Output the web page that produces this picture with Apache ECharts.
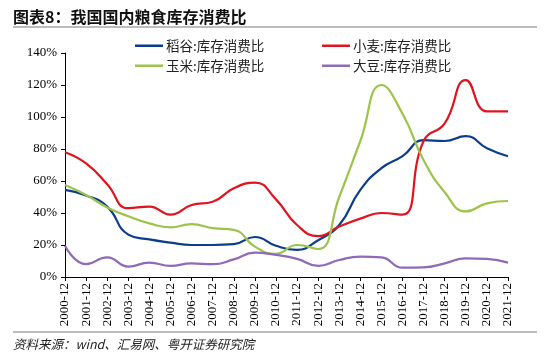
<!DOCTYPE html>
<html>
<head>
<meta charset="utf-8">
<script src="https://cdn.jsdelivr.net/npm/echarts@6/dist/echarts.min.js"></script>
<style>
html,body{margin:0;padding:0;background:#fff;}
#chart{width:550px;height:362px;}
</style>
</head>
<body>
<div id="chart"></div>
<script>
var categories = ['2000-12','2001-12','2002-12','2003-12','2004-12','2005-12','2006-12','2007-12','2008-12','2009-12','2010-12','2011-12','2012-12','2013-12','2014-12','2015-12','2016-12','2017-12','2018-12','2019-12','2020-12','2021-12'];
var rice = [54.5, 51, 44, 26.5, 23.5, 21.5, 20, 20, 20.5, 25, 19.5, 17, 23, 32.5, 54.5, 68, 75.5, 85.5, 85, 88, 80.5, 75.5];
var wheat = [78, 71, 58, 43, 44, 39, 45, 47, 55.5, 59, 48.5, 32.5, 25.5, 31.5, 36.5, 40, 39, 85, 96, 123, 103.5, 103.5];
var corn = [57.5, 51.3, 43.5, 38, 33.5, 31, 33, 30.5, 29.5, 19, 14.5, 20, 17.5, 50, 85, 120, 102, 73, 53, 41, 46, 47.5];
var soybean = [19.5, 8, 12.3, 6.5, 9, 7, 8.5, 8, 11, 15.2, 13.8, 11.3, 6.9, 10.6, 12.7, 12.3, 5.8, 6, 8.5, 11.7, 11.3, 9];
var seriesNames = ['稻谷:库存消费比','小麦:库存消费比','玉米:库存消费比','大豆:库存消费比'];
var colors = ['#0c3c8c','#e0141e','#9cc34a','#8e6ab8'];
var titleText = '图表8：我国国内粮食库存消费比';
var sourceText = '资料来源：wind、汇易网、粤开证券研究院';

var chart = echarts.init(document.getElementById('chart'));
var dataList = [rice, wheat, corn, soybean];
var legendPos = [[135,39],[322,39],[135,59],[322,59]];
var legends = seriesNames.map(function(n,i){
  return {
    data:[n], left: legendPos[i][0], top: legendPos[i][1],
    icon:'rect', itemWidth:28, itemHeight:2.5, itemGap:0,
    textStyle:{fontFamily:'Noto Sans CJK SC', fontSize:13.5, color:'#222', padding:[0,0,0,-2]},
    padding:0
  };
});
var option = {
  animation:false,
  backgroundColor:'#fff',
  color: colors,
  legend: legends,
  grid:{left:65, right:42, top:53, bottom:85},
  xAxis:{
    type:'category', data:categories, boundaryGap:false,
    axisLine:{lineStyle:{color:'#000', width:1}},
    axisTick:{show:true, length:4, lineStyle:{color:'#000'}},
    axisLabel:{rotate:90, interval:0, fontFamily:'Liberation Serif', fontSize:13, color:'#000', margin:6}
  },
  yAxis:{
    type:'value', min:0, max:140, interval:20,
    axisLine:{show:true, lineStyle:{color:'#000', width:1}},
    axisTick:{show:true, length:4, lineStyle:{color:'#000'}},
    splitLine:{show:false},
    axisLabel:{formatter:'{value}%', fontFamily:'Liberation Serif', fontSize:13, color:'#000', margin:8}
  },
  series: seriesNames.map(function(n,i){
    return {name:n, type:'line', data:dataList[i], smooth:0.5, symbol:'none',
      lineStyle:{width:2.2, color:colors[i]}, itemStyle:{color:colors[i]}};
  }),
  graphic:[
    {type:'text', left:13, top:9, style:{text:titleText, font:'bold 16px "Noto Sans CJK SC"', fill:'#111'}},
    {type:'line', shape:{x1:13, y1:27, x2:537, y2:27}, style:{stroke:'#bdbdbd', lineWidth:2}},
    {type:'line', shape:{x1:13, y1:332, x2:537, y2:332}, style:{stroke:'#bdbdbd', lineWidth:2}},
    {type:'text', left:13, top:338, style:{text:sourceText, font:'italic 12.5px "Noto Sans CJK SC"', fill:'#222'}}
  ]
};
chart.setOption(option);
</script>
</body>
</html>
